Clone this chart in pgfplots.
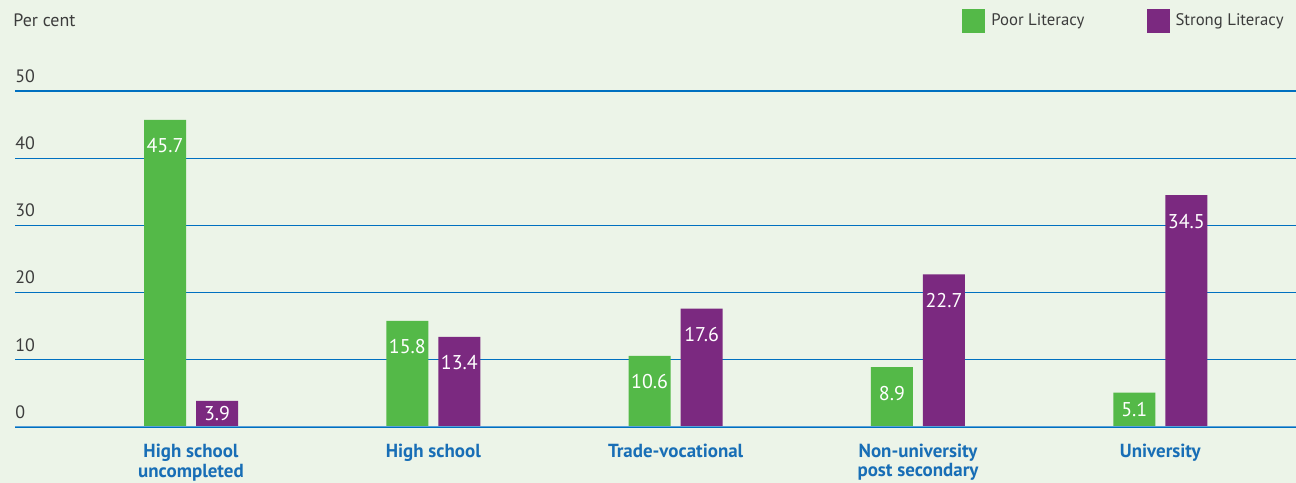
\documentclass[border=0pt]{standalone}
\usepackage{pgfplots}
\pgfplotsset{compat=1.18}
\usepackage{fontspec}
\setmainfont{PT Sans}
\usetikzlibrary{backgrounds}
\definecolor{bg}{RGB}{236,244,232}
\definecolor{pgreen}{RGB}{84,185,72}
\definecolor{ppurple}{RGB}{123,41,128}
\definecolor{gridblue}{RGB}{0,112,192}
\definecolor{baseblue}{RGB}{90,160,215}
\definecolor{catblue}{RGB}{24,110,182}
\definecolor{txt}{RGB}{60,60,60}
\begin{document}
\begin{tikzpicture}
\begin{axis}[name=ax, scale only axis, width=640.5bp, height=168bp,
  ybar=5bp, bar width=21bp,
  xmin=-0.7263, xmax=4.56, ymin=0, ymax=50,
  xtick={0,1,2,3,4},
  xticklabels={{High school\\uncompleted},{High school},{Trade-vocational},{Non-university\\post secondary},{University}},
  ytick={0,10,20,30,40,50},
  ymajorgrids, grid style={gridblue, line width=0.6bp},
  axis line style={draw=none}, major tick length=0pt, tick style={draw=none},
  /pgf/number format/assume math mode=true,
  yticklabel style={anchor=south west, inner sep=0pt, yshift=4bp, font=\fontsize{9}{10}\selectfont, text=txt},
  xticklabel style={anchor=north, inner sep=0pt, yshift=-8.5bp, align=center, font=\fontsize{9.5}{8.3}\selectfont\bfseries, text=catblue},
  visualization depends on={rawy \as \rawy},
  nodes near coords={\pgfmathprintnumber[fixed,fixed zerofill,precision=1,assume math mode=true]{\pgfplotspointmeta}},
  every node near coord/.append style={anchor=center, text=white, font=\fontsize{10}{10}\selectfont, yshift={-min(13,1.68*\rawy)}},
  legend style={draw=none, fill=none, at={(1,1)}, anchor=south east, yshift=29bp, xshift=-3bp, inner sep=0pt,
    legend columns=2, font=\fontsize{8.4}{10}\selectfont, text=txt,
    nodes={inner xsep=3bp},
    /tikz/every even column/.append style={column sep=28bp}},
  legend image code/.code={\fill[#1] (0bp,-6bp) rectangle (11.5bp,6bp);},
]
\addplot[fill=pgreen, draw=none] coordinates {(0,45.7) (1,15.8) (2,10.6) (3,8.9) (4,5.1)};
\addplot[fill=ppurple, draw=none] coordinates {(0,3.9) (1,13.4) (2,17.6) (3,22.7) (4,34.5)};
\legend{Poor Literacy, Strong Literacy}
\draw[baseblue, line width=1bp] (rel axis cs:0,0) -- (rel axis cs:1,0);
\end{axis}
\node[anchor=base west, inner sep=0pt, font=\fontsize{9}{10}\selectfont, text=txt] at ([xshift=-1bp, yshift=32bp]ax.north west) {Per cent};
\begin{scope}[on background layer]
\fill[bg] ([xshift=-7.5bp,yshift=-28bp]ax.south west) rectangle ([yshift=45.5bp]ax.north east);
\end{scope}
\pgfresetboundingbox
\path ([xshift=-7.5bp,yshift=-28bp]ax.south west) rectangle ([yshift=45.5bp]ax.north east);
\end{tikzpicture}
\end{document}
